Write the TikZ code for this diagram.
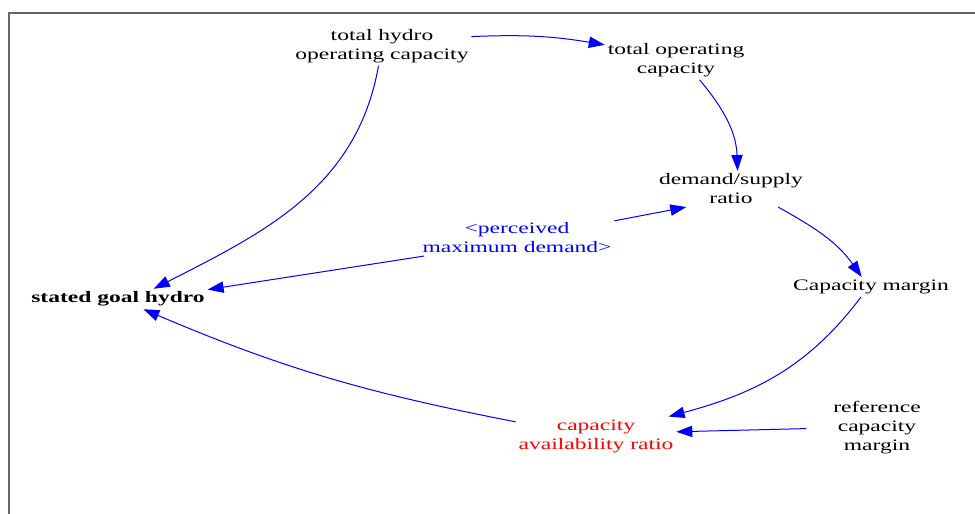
\documentclass[tikz,border=0pt]{standalone}
\usepackage{fontspec}
\setmainfont{Liberation Serif}[FakeStretch=1.47]
\usetikzlibrary{arrows.meta}

\begin{document}
\begin{tikzpicture}[x=0.75pt, y=0.75pt,
    var/.style = {align=center, inner sep=2pt, font=\fontsize{12pt}{14.25pt}\selectfont},
    link/.style = {-{Triangle[length=12pt, width=8.5pt]}, blue, line width=0.75pt}]
        \useasboundingbox (0,0) rectangle (975,-514);
        \draw[black!60, line width=1pt] (975,-13) -- (9,-13) -- (9,-514);

        \node[var] (thoc) at (382,-46) {total hydro\\operating capacity};
        \node[var] (toc) at (676,-60) {total operating\\capacity};
        \node[var] (dsr) at (731,-189) {demand/supply\\ratio};
        \node[var, blue] (pmd) at (517,-238) {<perceived\\maximum demand>};
        \node[var] (cm) at (871,-287) {Capacity margin};
        \node[var, font=\fontsize{12pt}{14.25pt}\selectfont\bfseries] (sgh) at (118,-299) {stated goal hydro};
        \node[var, red] (car) at (596,-436) {capacity\\availability ratio};
        \node[var] (rcm) at (877,-428) {reference\\capacity\\margin};

        \draw[link] (thoc.6) to[bend left=6] (toc.168);
        \draw[link] (toc.-40) to[out=-50, in=92] (dsr.70);
        \draw[link] (dsr.-21) to[out=-29, in=125] (cm.133);
        \draw[link] (pmd.10) -- (dsr.202);
        \draw[link] (thoc.260) to[out=260, in=27] (sgh.16);
        \draw[link] (pmd.191) -- (sgh.6);
        \draw[link] (cm.225) to[out=233, in=15] (car.15);
        \draw[link, shorten <=18pt] (rcm.west) -- (car.3);
        \draw[link] (car.170) to[out=169, in=-23] (sgh.-22);
    \end{tikzpicture}
\end{document}
